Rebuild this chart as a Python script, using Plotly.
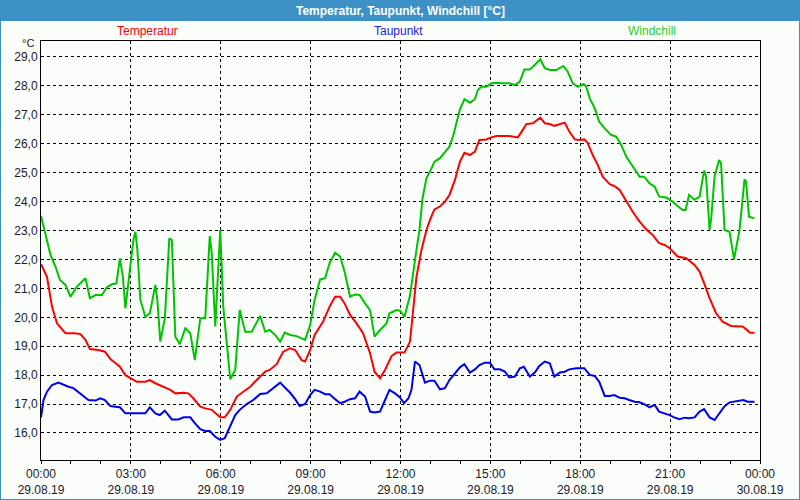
import pandas as pd
import plotly.graph_objects as go

# ---- data (hours after midnight 29.08.2019, values in °C) ----
temp_h = [0.0, 0.2, 0.37, 0.53, 0.81, 1.14, 1.31, 1.48, 1.64, 1.92, 2.14, 2.31, 2.48, 2.64, 2.81, 2.98,
          3.2, 3.48, 3.64, 3.81, 4.09, 4.31, 4.48, 4.75, 4.92, 5.09, 5.31, 5.48, 5.7, 5.98, 6.14, 6.31,
          6.53, 6.75, 6.98, 7.2, 7.48, 7.64, 7.87, 8.09, 8.31, 8.48, 8.7, 8.81, 8.98, 9.14, 9.42, 9.64,
          9.81, 9.98, 10.14, 10.31, 10.53, 10.75, 10.98, 11.14, 11.31, 11.48, 11.7, 11.87, 12.14, 12.31,
          12.42, 12.53, 12.7, 12.87, 12.98, 13.14, 13.31, 13.48, 13.64, 13.81, 13.98, 14.14, 14.31, 14.48,
          14.64, 14.87, 15.03, 15.2, 15.64, 15.92, 16.09, 16.2, 16.42, 16.59, 16.67, 16.81, 16.98, 17.14,
          17.31, 17.48, 17.64, 17.81, 17.98, 18.14, 18.25, 18.42, 18.59, 18.75, 18.98, 19.14, 19.31, 19.53,
          19.75, 19.98, 20.2, 20.42, 20.64, 20.81, 20.98, 21.25, 21.53, 21.81, 21.98, 22.14, 22.31, 22.53,
          22.75, 23.03, 23.25, 23.42, 23.53, 23.67, 23.81]
temp_v = [21.84, 21.40, 20.37, 19.79, 19.45, 19.45, 19.42, 19.22, 18.90, 18.87, 18.81, 18.56, 18.42, 18.29, 18.00, 17.89,
          17.77, 17.77, 17.83, 17.72, 17.60, 17.49, 17.37, 17.39, 17.37, 17.20, 16.91, 16.85, 16.80, 16.54, 16.54, 16.80,
          17.26, 17.43, 17.60, 17.83, 18.12, 18.18, 18.38, 18.81, 18.93, 18.87, 18.52, 18.47, 18.87, 19.39, 19.85, 20.37,
          20.71, 20.71, 20.48, 20.08, 19.79, 19.45, 18.76, 18.12, 17.89, 18.18, 18.66, 18.78, 18.78, 19.16,
          20.14, 21.40, 22.33, 23.02, 23.37, 23.73, 23.83, 24.00, 24.23, 24.75, 25.38, 25.69, 25.61, 25.73,
          26.13, 26.15, 26.22, 26.27, 26.27, 26.22, 26.48, 26.68, 26.71, 26.82, 26.90, 26.71, 26.68, 26.62,
          26.68, 26.73, 26.42, 26.15, 26.13, 26.15, 26.02, 25.61, 25.27, 24.86, 24.60, 24.54, 24.40, 24.00,
          23.65, 23.31, 23.04, 22.85, 22.56, 22.50, 22.39, 22.10, 22.04, 21.81, 21.58, 21.18, 20.66, 20.14,
          19.85, 19.70, 19.68, 19.68, 19.59, 19.47, 19.47]

dew_h = [0.0, 0.09, 0.2, 0.37, 0.59, 0.76, 0.92, 1.09, 1.26, 1.42, 1.59, 1.81, 1.98, 2.14, 2.31, 2.48, 2.64, 2.81,
         3.48, 3.64, 3.81, 3.96, 4.14, 4.37, 4.59, 4.76, 4.98, 5.14, 5.31, 5.48, 5.64, 5.81, 5.98, 6.14, 6.31, 6.48,
         6.64, 6.87, 7.09, 7.31, 7.53, 7.76, 7.98, 8.14, 8.31, 8.48, 8.64, 8.81, 8.98, 9.14, 9.31, 9.48, 9.64, 9.81,
         9.98, 10.14, 10.31, 10.48, 10.64, 10.81, 10.98, 11.14, 11.31, 11.48, 11.64, 11.81, 11.98, 12.11, 12.26, 12.37,
         12.48, 12.64, 12.81, 12.98, 13.14, 13.31, 13.48, 13.64, 13.81, 13.98, 14.14, 14.31, 14.48, 14.64, 14.81, 14.98,
         15.14, 15.31, 15.48, 15.64, 15.81, 15.98, 16.11, 16.2, 16.31, 16.48, 16.64, 16.81, 16.98, 17.14, 17.31, 17.48,
         17.64, 17.87, 18.14, 18.31, 18.48, 18.64, 18.81, 18.98, 19.14, 19.31, 19.48, 19.64, 19.81, 19.98, 20.14, 20.31,
         20.48, 20.64, 20.81, 20.98, 21.14, 21.31, 21.48, 21.64, 21.81, 21.98, 22.14, 22.31, 22.48, 22.64, 22.81, 22.98,
         23.14, 23.31, 23.45, 23.59, 23.81]
dew_v = [16.54, 17.14, 17.43, 17.66, 17.74, 17.66, 17.60, 17.55, 17.39, 17.26, 17.14, 17.12, 17.20, 17.14, 16.93, 16.91, 16.89, 16.68,
         16.68, 16.89, 16.68, 16.62, 16.77, 16.47, 16.47, 16.54, 16.54, 16.34, 16.13, 16.07, 16.07, 15.87, 15.76, 15.82, 16.22, 16.62,
         16.80, 17.00, 17.14, 17.35, 17.37, 17.55, 17.74, 17.58, 17.39, 17.17, 16.93, 17.00, 17.31, 17.49, 17.43, 17.34, 17.34, 17.17,
         17.03, 17.08, 17.17, 17.20, 17.43, 17.26, 16.74, 16.71, 16.74, 17.14, 17.49, 17.37, 17.23, 17.03, 17.20, 17.49,
         18.47, 18.35, 17.74, 17.81, 17.81, 17.51, 17.55, 17.83, 18.06, 18.27, 18.38, 18.09, 18.20, 18.35, 18.43, 18.43,
         18.20, 18.20, 18.12, 17.92, 17.95, 18.24, 18.29, 18.15, 17.95, 18.09, 18.32, 18.47, 18.41, 17.95, 18.09, 18.12,
         18.20, 18.24, 18.24, 18.01, 17.97, 17.77, 17.28, 17.28, 17.31, 17.22, 17.20, 17.14, 17.08, 17.06, 17.00, 16.89,
         16.97, 16.74, 16.68, 16.62, 16.54, 16.48, 16.53, 16.51, 16.54, 16.74, 16.83, 16.54, 16.45, 16.68, 16.93, 17.06,
         17.08, 17.12, 17.14, 17.08, 17.08]

wc_h = [0.0, 0.14, 0.31, 0.48, 0.64, 0.81, 0.98, 1.2, 1.48, 1.64, 1.81, 2.03, 2.2, 2.37, 2.51, 2.64, 2.73, 2.81,
        2.89, 2.98, 3.09, 3.15, 3.22, 3.31, 3.48, 3.64, 3.81, 3.89, 3.98, 4.14, 4.29, 4.37, 4.48, 4.64, 4.81, 4.98,
        5.14, 5.31, 5.48, 5.64, 5.7, 5.81, 5.87, 5.98, 6.09, 6.31, 6.48, 6.64, 6.81, 7.03, 7.31, 7.48, 7.64, 7.81,
        7.98, 8.14, 8.31, 8.53, 8.81, 8.98, 9.14, 9.31, 9.48, 9.64, 9.81, 9.98, 10.14, 10.31, 10.48, 10.64, 10.81, 10.98,
        11.14, 11.31, 11.53, 11.64, 11.87, 11.98, 12.14, 12.31, 12.48, 12.64, 12.74, 12.87, 13.03, 13.14, 13.31, 13.48,
        13.64, 13.76, 13.87, 13.98, 14.14, 14.31, 14.48, 14.59, 14.7, 14.87, 15.03, 15.2, 15.37, 15.64, 15.81, 15.98,
        16.14, 16.31, 16.42, 16.53, 16.67, 16.81, 16.98, 17.2, 17.31, 17.44, 17.59, 17.75, 17.92, 18.11, 18.2, 18.31,
        18.48, 18.64, 18.81, 19.03, 19.2, 19.37, 19.53, 19.75, 19.98, 20.14, 20.31, 20.48, 20.64, 20.87, 21.09, 21.25,
        21.42, 21.51, 21.64, 21.81, 21.98, 22.14, 22.2, 22.31, 22.37, 22.48, 22.64, 22.7, 22.81, 22.98, 23.14, 23.31,
        23.48, 23.53, 23.64, 23.81]
wc_v = [23.50, 22.91, 22.16, 21.75, 21.29, 21.12, 20.71, 21.06, 21.35, 20.66, 20.77, 20.77, 21.04, 21.14, 21.17, 22.04, 21.40, 20.31,
        20.94, 21.87, 22.67, 22.96, 22.33, 20.60, 20.02, 20.14, 21.12, 20.60, 19.16, 19.97, 22.73, 22.67, 19.33, 19.07, 19.62, 19.45,
        18.52, 19.97, 19.97, 22.81, 22.21, 19.68, 20.60, 23.02, 20.37, 17.86, 18.18, 20.25, 19.50, 19.50, 20.05, 19.50, 19.56, 19.39,
        19.16, 19.47, 19.39, 19.35, 19.22, 19.73, 20.60, 21.31, 21.35, 21.87, 22.23, 22.10, 21.58, 20.71, 20.79, 20.77, 20.48, 20.25,
        19.33, 19.56, 19.79, 20.14, 20.25, 20.23, 20.02, 20.75, 21.98, 23.02, 24.10, 24.81, 25.15, 25.38, 25.50, 25.73,
        25.90, 26.30, 26.76, 27.19, 27.54, 27.42, 27.54, 27.86, 27.97, 27.97, 28.09, 28.11, 28.09, 28.09, 28.03, 28.15,
        28.57, 28.57, 28.66, 28.78, 28.92, 28.61, 28.55, 28.55, 28.61, 28.69, 28.49, 28.09, 27.97, 28.07, 27.97, 27.57,
        27.23, 26.76, 26.53, 26.30, 26.25, 25.96, 25.56, 25.21, 24.86, 24.86, 24.63, 24.52, 24.17, 24.14, 24.00, 23.85,
        23.71, 23.71, 24.23, 24.06, 24.17, 25.07, 24.86, 23.02, 23.37, 24.86, 25.44, 25.33, 23.02, 22.96, 22.00, 23.02,
        24.77, 24.69, 23.48, 23.42]

series_names = ["Temperatur", "Taupunkt", "Windchill"]
y_ticks = list(range(16, 30))

# ---- styling ----
BASE = pd.Timestamp("2019-08-29 00:00")
RED, BLUE, GREEN = "#ff0000", "#0000f0", "#00c400"
BAR = "#3c92c6"
FONT = "Liberation Sans"
W, H = 800, 500
ML, MR, MT, MB = 41, 40, 41, 40
PW, PH = W - ML - MR, H - MT - MB


def to_time(hours):
    return [BASE + pd.Timedelta(minutes=round(h * 60)) for h in hours]


def px_x(p):
    return (p - ML) / PW


def px_y(p):
    return 1 - (p - MT) / PH


fig = go.Figure()
for name, hrs, vals, col in [(series_names[2], wc_h, wc_v, GREEN),
                             (series_names[0], temp_h, temp_v, RED),
                             (series_names[1], dew_h, dew_v, BLUE)]:
    fig.add_trace(go.Scatter(x=to_time(hrs), y=vals, mode="lines", name=name,
                             line=dict(color=col, width=2), showlegend=False))

fig.update_layout(
    width=W, height=H,
    margin=dict(l=ML, r=MR, t=MT, b=MB, pad=0),
    paper_bgcolor="#fbfdfb", plot_bgcolor="#fbfdfb",
    separators=",.",
    font=dict(family=FONT, size=12, color="#1a1a2a"),
    xaxis=dict(
        type="date",
        range=[BASE, BASE + pd.Timedelta(hours=24)],
        tick0=BASE, dtick=3 * 3600 * 1000,
        tickformat="%H:%M<br>%d.%m.%y",
        ticks="outside", ticklen=3, tickcolor="black",
        showgrid=True, gridcolor="black", gridwidth=1, griddash="3px,3px",
        minor=dict(dtick=3600 * 1000, ticks="outside", ticklen=3, tickcolor="black", showgrid=False),
        showline=True, linecolor="black", linewidth=1, mirror=True,
        zeroline=False, automargin=False,
        tickfont=dict(family=FONT, size=12, color="#1a1a2a"),
    ),
    yaxis=dict(
        range=[15.066, 29.553],
        tickvals=y_ticks, tickformat=".1f",
        ticks="", showgrid=True, gridcolor="black", gridwidth=1, griddash="3px,3px",
        showline=True, linecolor="black", linewidth=1, mirror=True,
        zeroline=False, automargin=False,
        tickfont=dict(family=FONT, size=12, color="#1a1a2a"),
    ),
    shapes=[
        dict(type="rect", xref="paper", yref="paper",
             x0=px_x(0), x1=px_x(W), y0=px_y(21), y1=px_y(0),
             fillcolor=BAR, line=dict(width=0), layer="below"),
        dict(type="rect", xref="paper", yref="paper",
             x0=px_x(0), x1=px_x(W), y0=px_y(H), y1=px_y(0),
             fillcolor="rgba(0,0,0,0)", line=dict(color=BAR, width=2)),
    ],
    annotations=[
        dict(text="<b>Temperatur, Taupunkt, Windchill [°C]</b>", xref="paper", yref="paper",
             x=px_x(400), y=px_y(10.5), xanchor="center", yanchor="middle", showarrow=False,
             font=dict(family=FONT, size=12, color="white")),
        dict(text=series_names[0], xref="paper", yref="paper", x=px_x(147), y=px_y(31),
             xanchor="center", yanchor="middle", showarrow=False,
             font=dict(family=FONT, size=12, color=RED)),
        dict(text=series_names[1], xref="paper", yref="paper", x=px_x(398), y=px_y(31),
             xanchor="center", yanchor="middle", showarrow=False,
             font=dict(family=FONT, size=12, color="#1a1ae0")),
        dict(text=series_names[2], xref="paper", yref="paper", x=px_x(652), y=px_y(31),
             xanchor="center", yanchor="middle", showarrow=False,
             font=dict(family=FONT, size=12, color="#2ccc2c")),
        dict(text="°C", xref="paper", yref="paper", x=px_x(36), y=px_y(43),
             xanchor="right", yanchor="middle", showarrow=False,
             font=dict(family=FONT, size=11, color="#1a1a2a")),
    ],
)

fig.write_html("out.html")
